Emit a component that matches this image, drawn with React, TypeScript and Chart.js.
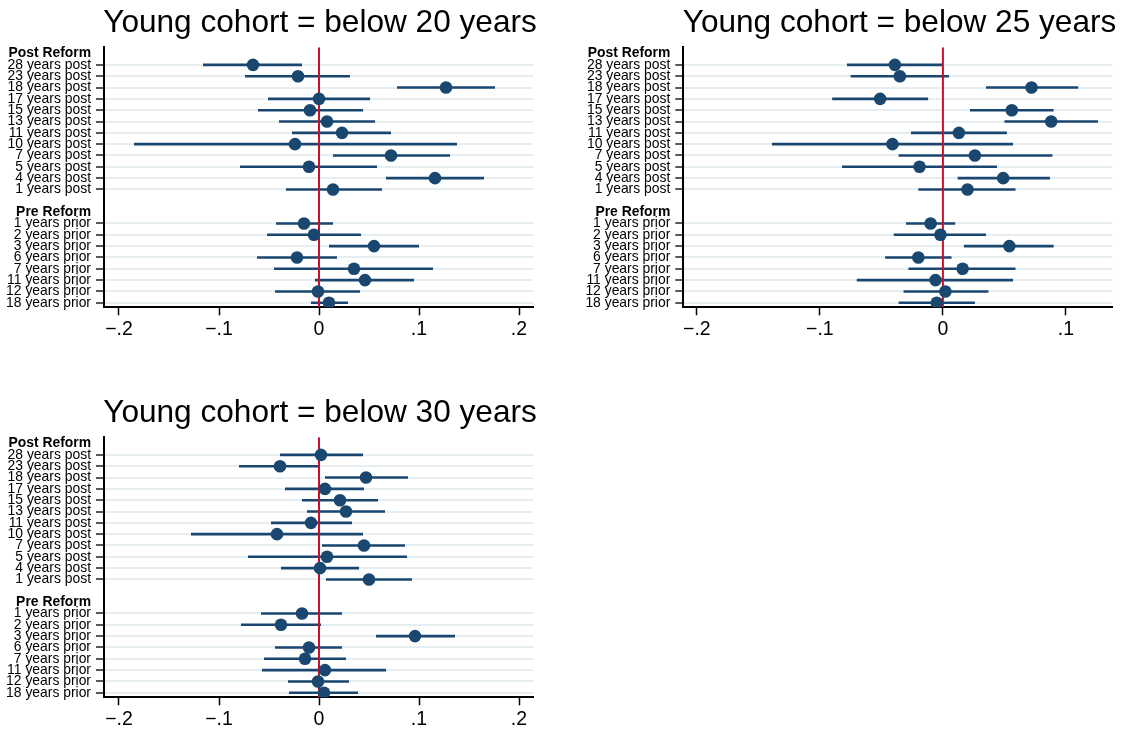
import React, { useEffect, useRef } from 'react';
import { Chart, registerables } from 'chart.js';
Chart.register(...registerables);

const FONT = '"Liberation Sans", Arial, Helvetica, sans-serif';
const NAVY = '#1a476f';
const RED = '#c8102e';
const GRID = '#e6eef2';

const rowLabels = [
  'Post Reform',
  '28 years post', '23 years post', '18 years post', '17 years post', '15 years post', '13 years post',
  '11 years post', '10 years post', '7 years post', '5 years post', '4 years post', '1 years post',
  '',
  'Pre Reform',
  '1 years prior', '2 years prior', '3 years prior', '6 years prior', '7 years prior', '11 years prior',
  '12 years prior', '18 years prior',
];
const headerRows = [0, 14];
const estimateRows = [1, 2, 3, 4, 5, 6, 7, 8, 9, 10, 11, 12, 15, 16, 17, 18, 19, 20, 21, 22];

const est20 = [-0.066, -0.021, 0.127, 0.0, -0.009, 0.008, 0.023, -0.024, 0.072, -0.01, 0.116, 0.014, -0.015, -0.005, 0.055, -0.022, 0.035, 0.046, -0.001, 0.01];
const lo20 = [-0.116, -0.074, 0.078, -0.051, -0.061, -0.04, -0.027, -0.185, 0.014, -0.079, 0.067, -0.033, -0.043, -0.052, 0.01, -0.062, -0.045, -0.004, -0.044, -0.008];
const hi20 = [-0.017, 0.031, 0.176, 0.051, 0.044, 0.056, 0.072, 0.138, 0.131, 0.058, 0.165, 0.063, 0.014, 0.042, 0.1, 0.018, 0.114, 0.095, 0.041, 0.029];

const est25 = [-0.039, -0.035, 0.072, -0.051, 0.056, 0.088, 0.013, -0.041, 0.026, -0.019, 0.049, 0.02, -0.01, -0.002, 0.054, -0.02, 0.016, -0.006, 0.002, -0.005];
const lo25 = [-0.078, -0.075, 0.035, -0.09, 0.022, 0.05, -0.026, -0.139, -0.036, -0.082, 0.012, -0.02, -0.03, -0.04, 0.017, -0.047, -0.028, -0.07, -0.032, -0.036];
const hi25 = [0.0, 0.005, 0.11, -0.012, 0.09, 0.126, 0.052, 0.057, 0.089, 0.044, 0.087, 0.059, 0.01, 0.035, 0.09, 0.007, 0.059, 0.057, 0.037, 0.026];

const est30 = [0.002, -0.039, 0.047, 0.006, 0.021, 0.027, -0.008, -0.042, 0.045, 0.008, 0.001, 0.05, -0.017, -0.038, 0.096, -0.01, -0.014, 0.006, -0.001, 0.005];
const lo30 = [-0.039, -0.08, 0.006, -0.034, -0.017, -0.012, -0.048, -0.128, 0.003, -0.071, -0.038, 0.007, -0.058, -0.078, 0.057, -0.044, -0.055, -0.057, -0.031, -0.03];
const hi30 = [0.044, 0.001, 0.089, 0.045, 0.059, 0.066, 0.033, 0.044, 0.086, 0.088, 0.04, 0.093, 0.023, 0.002, 0.136, 0.023, 0.027, 0.067, 0.03, 0.039];

const xTickValues = [-0.2, -0.1, 0, 0.1, 0.2];
const xTickLabels = ['\u2212.2', '\u2212.1', '0', '.1', '.2'];

const titles = ['Young cohort = below 20 years', 'Young cohort = below 25 years', 'Young cohort = below 30 years'];

const Y_MIN = -0.55;
const Y_MAX = 22.4;

type Panel = {
  title: string;
  est: number[];
  lo: number[];
  hi: number[];
  xMin: number;
  xMax: number;
  left: number;
  top: number;
  width: number;
  height: number;
  plotLeft: number;
  plotRight: number;
  plotTop: number;
  plotBottom: number;
};

const panels: Panel[] = [
  { title: titles[0], est: est20, lo: lo20, hi: hi20, xMin: -0.215, xMax: 0.214, left: 0, top: 0, width: 548, height: 345, plotLeft: 104, plotRight: 533, plotTop: 47.3, plotBottom: 307.3 },
  { title: titles[1], est: est25, lo: lo25, hi: hi25, xMin: -0.211, xMax: 0.138, left: 570, top: 0, width: 555, height: 345, plotLeft: 113.3, plotRight: 542.7, plotTop: 47.3, plotBottom: 307.3 },
  { title: titles[2], est: est30, lo: lo30, hi: hi30, xMin: -0.215, xMax: 0.214, left: 0, top: 390, width: 548, height: 343, plotLeft: 104, plotRight: 533, plotTop: 47.3, plotBottom: 307.3 },
];

const titlePlugin = {
  id: 'panelTitle',
  afterDraw(chart: any, _args: any, opts: any) {
    const { ctx, chartArea } = chart;
    ctx.save();
    ctx.font = `31.6px ${FONT}`;
    ctx.fillStyle = '#000';
    ctx.textAlign = 'center';
    ctx.textBaseline = 'alphabetic';
    ctx.fillText(opts.text, (chartArea.left + chartArea.right) / 2 + 1.5, opts.y);
    ctx.restore();
  },
};

function PanelChart({ p }: { p: Panel }) {
  const ref = useRef<HTMLCanvasElement | null>(null);
  useEffect(() => {
    if (!ref.current) return;
    const ciSets = estimateRows.map((r, i) => ({
      type: 'scatter' as const,
      data: [{ x: p.lo[i], y: r }, { x: p.hi[i], y: r }],
      showLine: true,
      borderColor: NAVY,
      borderWidth: 2.6,
      pointRadius: 0,
      pointHoverRadius: 0,
      order: 2,
    }));
    const chart = new Chart(ref.current, {
      type: 'scatter',
      data: {
        datasets: [
          {
            data: estimateRows.map((r, i) => ({ x: p.est[i], y: r })),
            backgroundColor: NAVY,
            borderColor: NAVY,
            borderWidth: 0,
            pointRadius: 6.3,
            pointHoverRadius: 6.3,
            order: 0,
          },
          {
            data: [{ x: 0, y: Y_MIN }, { x: 0, y: Y_MAX }],
            showLine: true,
            borderColor: RED,
            borderWidth: 2,
            pointRadius: 0,
            pointHoverRadius: 0,
            order: 1,
          },
          ...ciSets,
        ] as any,
      },
      options: {
        animation: false,
        responsive: false,
        devicePixelRatio: 1,
        events: [],
        layout: { padding: { top: p.plotTop, right: p.width - p.plotRight, left: 0, bottom: 0 } },
        plugins: {
          legend: { display: false },
          tooltip: { enabled: false },
          title: { display: false },
          panelTitle: { text: p.title, y: 31.5 },
        } as any,
        scales: {
          x: {
            type: 'linear',
            min: p.xMin,
            max: p.xMax,
            afterBuildTicks: (s: any) => {
              s.ticks = xTickValues.filter((v) => v >= p.xMin && v <= p.xMax).map((v) => ({ value: v }));
            },
            afterFit: (s: any) => {
              s.height = p.height - p.plotBottom;
            },
            ticks: {
              autoSkip: false,
              maxRotation: 0,
              color: '#000',
              padding: 3,
              font: { family: FONT, size: 19.5 },
              callback: (v: any) => {
                const idx = xTickValues.findIndex((t) => Math.abs(t - Number(v)) < 1e-9);
                return idx >= 0 ? xTickLabels[idx] : '';
              },
            },
            grid: { drawOnChartArea: false, drawTicks: true, tickLength: 8, tickColor: '#000', tickWidth: 1.5 },
            border: { display: true, color: '#000', width: 2 },
          },
          y: {
            type: 'linear',
            reverse: true,
            min: Y_MIN,
            max: Y_MAX,
            afterBuildTicks: (s: any) => {
              s.ticks = rowLabels.map((_, i) => ({ value: i }));
            },
            afterFit: (s: any) => {
              s.width = p.plotLeft;
            },
            ticks: {
              autoSkip: false,
              color: '#000',
              padding: 5,
              font: (ctx: any) => ({
                family: FONT,
                size: 13.9,
                weight: headerRows.includes(ctx.tick ? ctx.tick.value : -1) ? 'bold' : 'normal',
              }),
              callback: (v: any) => rowLabels[Number(v)] ?? '',
            },
            grid: {
              drawTicks: true,
              tickLength: 8,
              lineWidth: 2,
              tickWidth: 1.5,
              color: (ctx: any) => (ctx.tick && estimateRows.includes(ctx.tick.value) ? GRID : 'rgba(0,0,0,0)'),
              tickColor: (ctx: any) => (ctx.tick && estimateRows.includes(ctx.tick.value) ? '#222' : 'rgba(0,0,0,0)'),
            },
            border: { display: true, color: '#000', width: 2 },
          },
        },
      } as any,
      plugins: [titlePlugin],
    });
    return () => chart.destroy();
  }, [p]);
  return (
    <canvas
      ref={ref}
      width={p.width}
      height={p.height}
      style={{ position: 'absolute', left: p.left, top: p.top, width: p.width, height: p.height }}
    />
  );
}

export default function App() {
  return (
    <div style={{ position: 'fixed', left: 0, top: 0, width: 1125, height: 733, background: '#fff', overflow: 'hidden' }}>
      {panels.map((p, i) => (
        <PanelChart key={i} p={p} />
      ))}
    </div>
  );
}
